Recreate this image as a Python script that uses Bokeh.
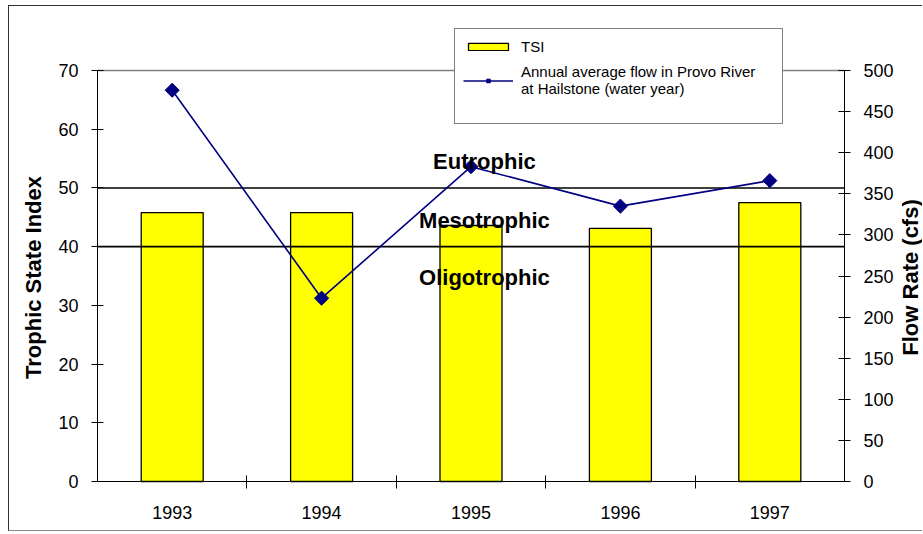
from bokeh.plotting import figure
from bokeh.models import (Range1d, LinearAxis, FixedTicker, Legend, LegendItem,
                          Label, ColumnDataSource)
from bokeh.embed import file_html
from bokeh.resources import INLINE
import math

# ---- data ----
years = ["1993", "1994", "1995", "1996", "1997"]
tsi = [45.8, 45.8, 43.6, 43.1, 47.5]
flow = [476, 223, 383, 335, 366]
tsi_ticks = [0, 10, 20, 30, 40, 50, 60, 70]
flow_ticks = [0, 50, 100, 150, 200, 250, 300, 350, 400, 450, 500]
thresholds = [40, 50]
zones = ["Eutrophic", "Mesotrophic", "Oligotrophic"]
zone_tsi = [54.5, 44.5, 34.8]

# ---- layout constants (pixels) ----
W, H = 914, 526          # drawing size inside the outer chart border
LEFT_PX = 88             # plot area starts this far from the left
CAT_PX = 149.4           # width of one category
TOP_PX = 64              # space above the 70 line (legend sits here)
PLOT_H = 411             # plot area height (0..70)
BOTTOM_PX = 51           # space below the zero line (year labels)

TSI_MAX = tsi_ticks[-1]
FLOW_MAX = flow_ticks[-1]
n = len(years)
x_start = 0.5 - LEFT_PX / CAT_PX
x_end = x_start + W / CAT_PX
tsi_px = PLOT_H / TSI_MAX
flow_px = PLOT_H / FLOW_MAX

FONT = "Liberation Sans"
x = list(range(1, n + 1))
src = ColumnDataSource(dict(x=x, year=years, tsi=tsi, flow=flow))

p = figure(width=W, height=H, output_backend="svg", toolbar_location=None,
           x_range=Range1d(x_start, x_end),
           y_range=Range1d(-BOTTOM_PX / tsi_px, TSI_MAX + TOP_PX / tsi_px),
           min_border_left=0, min_border_right=0, min_border_top=0, min_border_bottom=0)
p.margin = (5, 0, 0, 8)
p.styles = {"border-left": "1px solid #333333", "border-top": "1px solid #333333",
            "border-bottom": "1px solid #888888"}
p.extra_y_ranges = {"flow": Range1d(-BOTTOM_PX / flow_px, FLOW_MAX + TOP_PX / flow_px)}
p.xgrid.visible = False
p.ygrid.visible = False
p.outline_line_color = None
p.background_fill_color = "white"
p.border_fill_color = "white"

# x axis (at the zero line)
xa = p.xaxis[0]
xa.fixed_location = 0
xa.bounds = (0.5, n + 0.5)
xa.ticker = FixedTicker(ticks=x, minor_ticks=[i + 0.5 for i in x[:-1]])
xa.major_label_overrides = {i: y for i, y in zip(x, years)}
xa.major_tick_in = 0
xa.major_tick_out = 0
xa.minor_tick_in = 6
xa.minor_tick_out = 7
xa.minor_tick_line_color = "black"
xa.axis_line_color = "black"
xa.major_label_standoff = 17
xa.major_label_text_font = FONT
xa.major_label_text_font_size = "18px"
xa.major_label_text_color = "black"

# left axis (at the left edge of the categories)
ya = p.yaxis[0]
ya.fixed_location = 0.5
ya.ticker = FixedTicker(ticks=tsi_ticks)
ya.bounds = (0, TSI_MAX)
ya.major_tick_in = 6
ya.major_tick_out = 6
ya.minor_tick_line_color = None
ya.axis_line_color = "black"
ya.major_tick_line_color = "black"
ya.major_label_standoff = 13
ya.major_label_text_font = FONT
ya.major_label_text_font_size = "18px"
ya.major_label_text_color = "black"

# right axis (at the right edge of the categories)
ra = LinearAxis(y_range_name="flow", ticker=FixedTicker(ticks=flow_ticks))
ra.fixed_location = n + 0.5
ra.bounds = (0, FLOW_MAX)
ra.major_tick_in = 6
ra.major_tick_out = 6
ra.minor_tick_line_color = None
ra.axis_line_color = "black"
ra.major_tick_line_color = "black"
ra.major_label_standoff = 13
ra.major_label_text_font = FONT
ra.major_label_text_font_size = "18px"
ra.major_label_text_color = "black"
p.add_layout(ra, "right")

# axis titles
title_kw = dict(text_font=FONT, text_font_size="22px", text_font_style="bold",
                text_color="black", text_align="center", text_baseline="middle",
                angle=math.pi / 2)
p.add_layout(Label(x=0.5 - 64 / CAT_PX, y=TSI_MAX * 0.4964, text="Trophic State Index", **title_kw))
p.add_layout(Label(x=n + 0.5 + 66 / CAT_PX, y=TSI_MAX * 0.4964, text="Flow Rate (cfs)", **title_kw))

# top edge of the plot area
p.segment(x0=[0.5], x1=[n + 0.5], y0=[TSI_MAX], y1=[TSI_MAX], line_color="#808080", line_width=1.5)

# bars
bars = p.vbar(x="x", top="tsi", width=0.415, source=src, fill_color="#FFFF00",
              line_color="black", line_width=1.3)

# threshold lines
p.segment(x0=[0.5] * len(thresholds), x1=[n + 0.5] * len(thresholds),
          y0=thresholds, y1=thresholds, line_color="black", line_width=1.6)

# zone labels
for z, zy in zip(zones, zone_tsi):
    p.add_layout(Label(x=3.09, y=zy, text=z, text_align="center", text_baseline="middle",
                       text_font=FONT, text_font_size="22px", text_font_style="bold",
                       text_color="black"))

# flow line
ln = p.line(x="x", y="flow", source=src, y_range_name="flow", line_color="#000080", line_width=1.6)
mk = p.scatter(x="x", y="flow", source=src, y_range_name="flow", marker="square", size=10,
               angle=math.pi / 4, fill_color="#000080", line_color="#000080")

# legend
legend = Legend(items=[
    LegendItem(label="TSI", renderers=[bars]),
    LegendItem(label="Annual average flow in Provo River\nat Hailstone (water year)", renderers=[ln, mk]),
], location=(445, 357 + BOTTOM_PX))
legend.title = " "
legend.title_location = "below"
legend.title_standoff = 1
legend.title_text_font_size = "15px"
legend.border_line_color = "black"
legend.border_line_width = 1
legend.background_fill_color = "white"
legend.background_fill_alpha = 1
legend.padding = 8
legend.spacing = 8
legend.glyph_width = 50
legend.glyph_height = 9
legend.label_standoff = 8
legend.label_width = 253
legend.label_text_font = FONT
legend.label_text_font_size = "15px"
legend.label_text_color = "black"
legend.label_height = 18
legend.margin = 0
p.add_layout(legend, "center")

open("out.html", "w").write(file_html(p, INLINE))
